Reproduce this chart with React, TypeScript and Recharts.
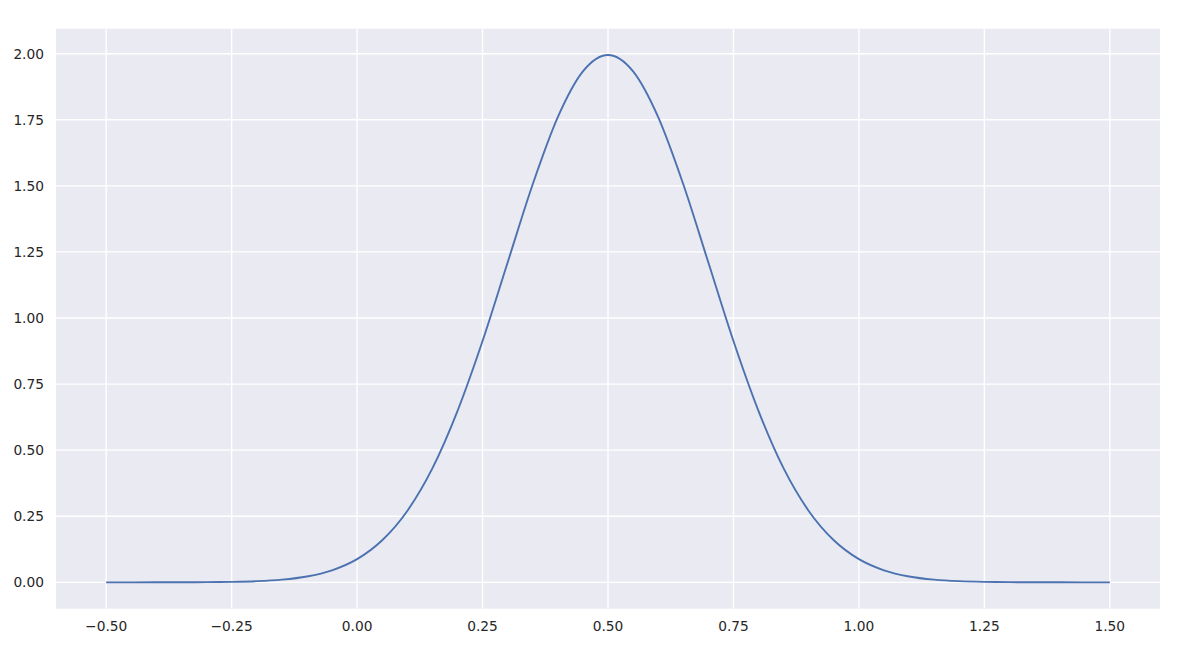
import React from "react";
import { LineChart, Line, XAxis, YAxis, CartesianGrid } from "recharts";

const xValues = [
  -0.5, -0.45, -0.4, -0.35, -0.3, -0.25, -0.2, -0.15, -0.1, -0.05,
  0, 0.05, 0.1, 0.15, 0.2, 0.25, 0.3, 0.35, 0.4, 0.45,
  0.5, 0.55, 0.6, 0.65, 0.7, 0.75, 0.8, 0.85, 0.9, 0.95,
  1.0, 1.05, 1.1, 1.15, 1.2, 1.25, 1.3, 1.35, 1.4, 1.45, 1.5,
];
const densityValues = [
  0, 0, 0.0001, 0.0002, 0.0007, 0.0018, 0.0044, 0.0102, 0.0222, 0.0455,
  0.0876, 0.159, 0.27, 0.431, 0.648, 0.913, 1.21, 1.506, 1.76, 1.933,
  1.995, 1.933, 1.76, 1.506, 1.21, 0.913, 0.648, 0.431, 0.27, 0.159,
  0.0876, 0.0455, 0.0222, 0.0102, 0.0044, 0.0018, 0.0007, 0.0002, 0.0001, 0, 0,
];
const xTicks = [-0.5, -0.25, 0, 0.25, 0.5, 0.75, 1.0, 1.25, 1.5];
const yTicks = [0, 0.25, 0.5, 0.75, 1.0, 1.25, 1.5, 1.75, 2.0];

const data = xValues.map((x, i) => ({ x, y: densityValues[i] }));

const fmt = (v: number) => v.toFixed(2).replace("-", "\u2212");

const tickStyle = { fill: "#262626", fontSize: 13.75, fontFamily: "DejaVu Sans" };

export default function App() {
  return (
    <div style={{ position: "absolute", left: 0, top: 0, width: 1200, height: 656, background: "#fff" }}>
      <LineChart
        width={1200}
        height={656}
        data={data}
        margin={{ top: 28.7, right: 40, left: 0, bottom: 0 }}
      >
        <CartesianGrid
          fill="#EAEAF2"
          stroke="#FFFFFF"
          strokeWidth={1.4}
          horizontalValues={yTicks}
          verticalValues={xTicks}
        />
        <XAxis
          dataKey="x"
          type="number"
          domain={[-0.6, 1.6]}
          ticks={xTicks}
          tickFormatter={fmt}
          axisLine={false}
          tickLine={false}
          height={47.3}
          tickMargin={7}
          tick={tickStyle}
          allowDataOverflow
        />
        <YAxis
          type="number"
          domain={[-0.09975, 2.0945]}
          ticks={yTicks}
          tickFormatter={fmt}
          axisLine={false}
          tickLine={false}
          width={56}
          tickMargin={6}
          tick={tickStyle}
          allowDataOverflow
        />
        <Line
          type="monotone"
          dataKey="y"
          stroke="#4C72B0"
          strokeWidth={1.9}
          dot={false}
          isAnimationActive={false}
        />
      </LineChart>
    </div>
  );
}
